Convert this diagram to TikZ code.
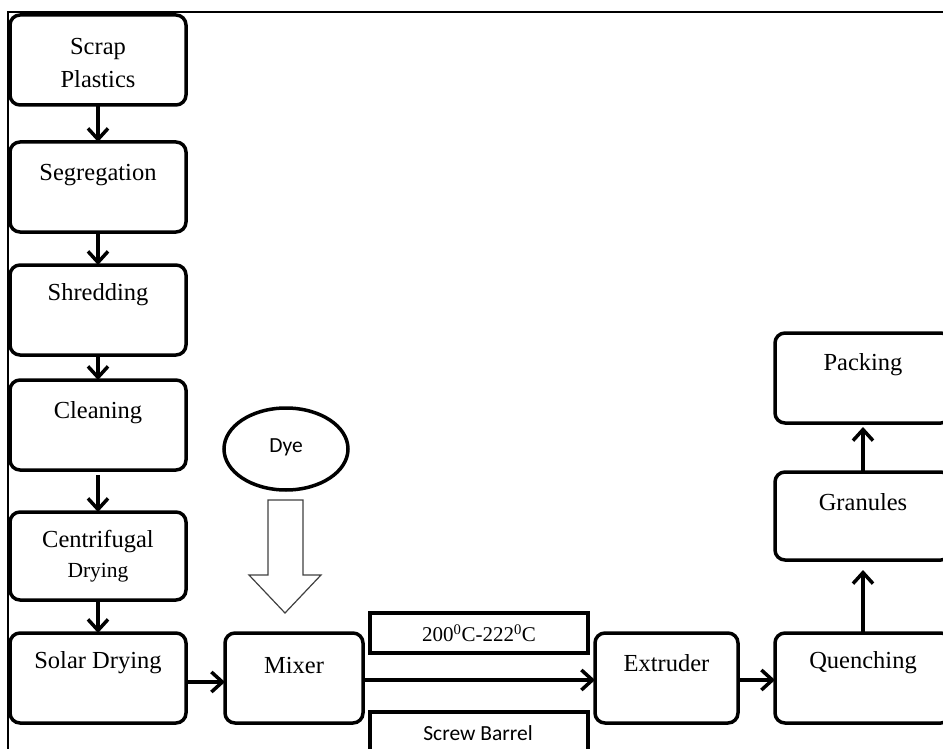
\documentclass[tikz,border=0pt]{standalone}
\usepackage{fontspec}
\setmainfont{Liberation Serif}
\newfontfamily\calib{Carlito}
\usetikzlibrary{arrows.meta,shapes.geometric}
\begin{document}
\begin{tikzpicture}[x=1pt,y=-1pt,
  box/.style={draw,line width=3.5pt,rounded corners=10pt,minimum width=176pt,minimum height=90pt,inner sep=0pt,outer sep=0pt},
  lbl/.style={font=\fontsize{24.5}{33}\selectfont,inner sep=0pt,align=center},
  sans/.style={font=\calib\fontsize{21.5}{26}\selectfont,inner sep=0pt},
  flow/.style={line width=3.5pt,-{Straight Barb[length=11pt,width=20pt]}},
  plain/.style={draw,line width=3.5pt,inner sep=0pt,outer sep=0pt}]
\path[use as bounding box,clip] (0,0) rectangle (943,749);
% frame
\draw[line width=2pt] (943,12) -- (8,12) -- (8,760);
% left column
\node[box] (scrap)  at (98,60)  {};
\node[box] (seg)    at (98,187) {};
\node[box] (shred)  at (98,310) {};
\node[box] (clean)  at (98,425) {};
\node[box,minimum height=88pt] (centri) at (98,556) {};
\node[box] (solar)  at (98,678) {};
% middle / right
\node[box,minimum width=138pt] (mixer) at (294,678) {};
\node[box,minimum width=143pt] (extr) at (666.5,678) {};
\node[box] (quench) at (863,678) {};
\node[box,minimum height=88pt] (gran) at (863,516) {};
\node[box] (pack) at (863,378) {};
% labels
\node[lbl] (tScrap) at ([yshift=-48pt]scrap.north) {Scrap\\Plastics};
\node[lbl] (tSeg) at ([yshift=-33pt]seg.north) {Segregation};
\node[lbl] (tShred) at ([yshift=-30pt]shred.north) {Shredding};
\node[lbl] (tClean) at ([yshift=-33pt]clean.north) {Cleaning};
\node[lbl] (tCentri) at ([yshift=-30pt]centri.north) {Centrifugal};
\node[lbl,font=\fontsize{21.5}{26}\selectfont] (tDry) at ([yshift=-61pt]centri.north) {Drying};
\node[lbl] (tSolar) at ([yshift=-30pt]solar.north) {Solar Drying};
\node[lbl] (tMixer) at ([yshift=-33pt]mixer.north) {Mixer};
\node[lbl] (tExtr) at ([yshift=-30pt]extr.north) {Extruder};
\node[lbl] (tQuench) at ([yshift=-30pt]quench.north) {Quenching};
\node[lbl] (tGran) at ([yshift=-30pt]gran.north) {Granules};
\node[lbl] (tPack) at ([yshift=-32pt]pack.north) {Packing};
% dye
\node[draw,ellipse,line width=3.5pt,minimum width=124pt,minimum height=82pt,inner sep=0pt] (dye) at (286,449) {};
\node[sans] (tDye) at (286,447) {Dye};
\draw[line width=1.2pt,draw=black!75,fill=white]
  (268,500) -- (303,500) -- (303,575) -- (321,575) -- (285,613) -- (249,575) -- (268,575) -- cycle;
% screw barrel boxes
\node[plain,minimum width=218pt,minimum height=40pt] (temp) at (479,633) {};
\node[lbl,font=\fontsize{21}{25}\selectfont] (tTemp) at (temp.center) {200\textsuperscript{0}C-222\textsuperscript{0}C};
\node[plain,minimum width=218pt,minimum height=60pt] (screw) at (479,742) {};
\node[sans] (tScrew) at (478,733) {Screw Barrel};
% connectors
\draw[flow] (scrap.south) -- (seg.north);
\draw[flow] (seg.south) -- (shred.north);
\draw[flow] (shred.south) -- (clean.north);
\draw[flow] ([yshift=-5pt]clean.south) -- (centri.north);
\draw[flow] (centri.south) -- (solar.north);
\draw[flow] ([yshift=-4pt]solar.east) -- ([yshift=-4pt]mixer.west);
\draw[flow] ([yshift=-2pt]mixer.east) -- ([yshift=-2pt]extr.west);
\draw[flow] ([yshift=-2pt]extr.east) -- ([yshift=-2pt]quench.west);
\draw[flow,shorten >=10pt] (quench.north) -- (gran.south);
\draw[flow,shorten >=4pt] (gran.north) -- (pack.south);
\end{tikzpicture}
\end{document}
